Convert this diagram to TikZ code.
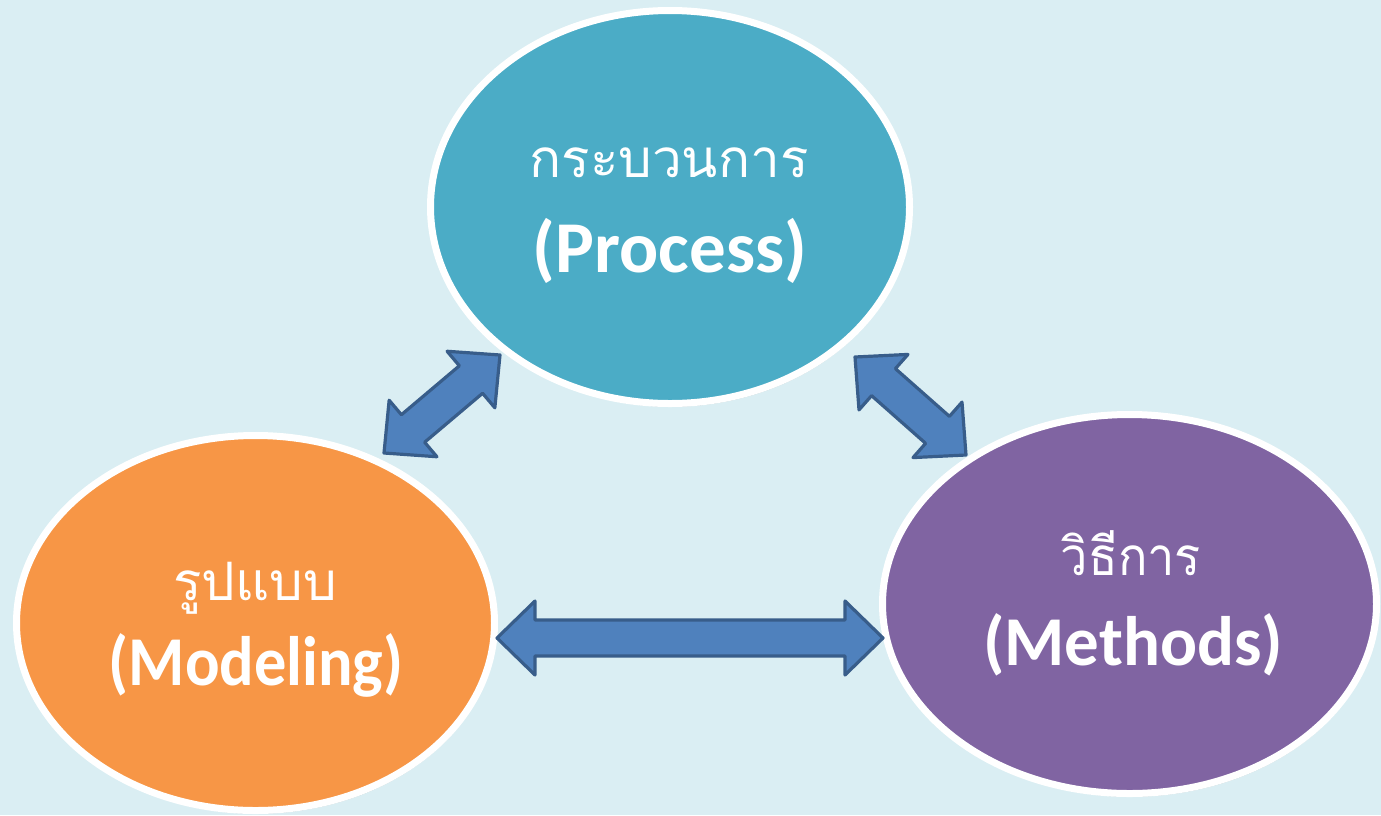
\documentclass[tikz,border=0pt]{standalone}
\usepackage{fontspec}
\setmainfont{Carlito}
\newfontfamily\thaifont[Script=Thai]{Loma}
\usetikzlibrary{shapes.geometric,calc,shadows}
\definecolor{bgc}{HTML}{DAEEF3}
\definecolor{procc}{HTML}{4BACC6}
\definecolor{modc}{HTML}{F79646}
\definecolor{methc}{HTML}{8064A2}
\definecolor{arrfill}{HTML}{4F81BD}
\definecolor{arrline}{HTML}{385D8A}
\tikzset{
  bubble/.style={ellipse, draw=white, line width=3.5pt, inner sep=0pt,
    drop shadow={opacity=0.3, shadow xshift=0.6pt, shadow yshift=-1.6pt, fill=black!70}},
  thaitext/.style={anchor=base, text=white, font=\thaifont\fontsize{26.5}{31}\selectfont, inner sep=0pt},
  lattext/.style={anchor=base, text=white, font=\bfseries\fontsize{36.5}{42}\selectfont, inner sep=0pt},
  lattextsm/.style={anchor=base, text=white, font=\bfseries\fontsize{35}{40}\selectfont, inner sep=0pt},
  dblarrow/.style={fill=arrfill, draw=arrline, line width=1.6pt, line join=round}
}
\newcommand{\twowayarrow}[2]{%
  \draw[dblarrow] (#1)
   -- ($($(#1)!19pt!(#2)$)!18.5pt!90:(#2)$)
   -- ($($(#1)!19pt!(#2)$)!9pt!90:(#2)$)
   -- ($($(#2)!19pt!(#1)$)!9pt!-90:(#1)$)
   -- ($($(#2)!19pt!(#1)$)!18.5pt!-90:(#1)$)
   -- (#2)
   -- ($($(#2)!19pt!(#1)$)!18.5pt!90:(#1)$)
   -- ($($(#2)!19pt!(#1)$)!9pt!90:(#1)$)
   -- ($($(#1)!19pt!(#2)$)!9pt!-90:(#2)$)
   -- ($($(#1)!19pt!(#2)$)!18.5pt!-90:(#2)$)
   -- cycle;}
\begin{document}
\begin{tikzpicture}[x=0.5pt,y=-0.5pt]
\fill[bgc] (0,0) rectangle (1381,815);
\useasboundingbox (0,0) rectangle (1381,815);
% ellipses
\node[bubble, fill=procc, minimum width=239.5pt, minimum height=196.5pt] (proc) at (670,207) {};
\node[bubble, fill=modc, minimum width=239pt, minimum height=187.5pt] (mod) at (255.5,623) {};
\node[bubble, fill=methc, minimum width=247pt, minimum height=189.5pt] (meth) at (1129.5,604) {};
% texts
\node[thaitext] (procth) at (669,177) {กระบวนการ};
\node[lattext] (procen) at (670,272) {(Process)};
\node[thaitext] (modth) at (255,600) {รูปแบบ};
\node[lattextsm] (moden) at (256,685) {\scalebox{0.92}[1]{(Modeling)}};
\node[thaitext] (methth) at (1131,575) {\scalebox{0.92}[1]{วิธีการ}};
\node[lattextsm] (methen) at (1133,665) {\scalebox{0.985}[1]{(Methods)}};
% arrow end points
\coordinate (hA) at (497,638);
\coordinate (hB) at (883,638);
\coordinate (lA) at (384,453);
\coordinate (lB) at (500,355);
\coordinate (rA) at (855,357);
\coordinate (rB) at (966,455);
\twowayarrow{hA}{hB}
\twowayarrow{lA}{lB}
\twowayarrow{rA}{rB}
\end{tikzpicture}
\end{document}
